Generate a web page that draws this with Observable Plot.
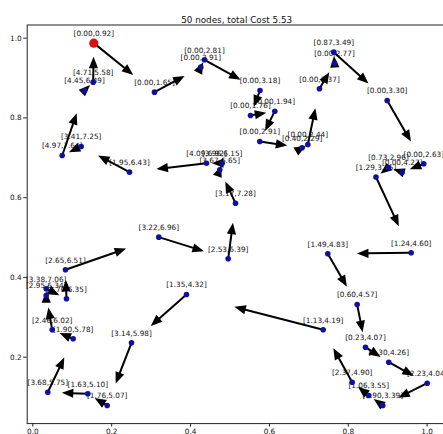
<!DOCTYPE html>
<html><head><meta charset="utf-8">
<script src="https://cdn.jsdelivr.net/npm/d3@7"></script>
<script src="https://cdn.jsdelivr.net/npm/@observablehq/plot@0.6"></script>
<style>html,body{margin:0;padding:0;background:#fff;overflow:hidden}</style>
</head><body><div id="chart"></div>
<script>
const title = "50 nodes, total Cost 5.53";
// nodes listed in tour order (the first one is the depot); each arrow goes to the next node
const nodeLabels = [
  "[0.00,0.92]","[0.00,1.65]","[0.00,2.91]","[0.00,2.81]","[0.00,3.18]","[0.00,1.76]","[0.00,1.94]","[0.00,2.91]",
  "[0.40,2.29]","[0.00,2.44]","[0.00,2.37]","[0.00,2.77]","[0.87,3.49]","[0.00,3.30]","[0.00,2.63]","[0.00,4.27]",
  "[0.73,2.96]","[1.29,3.15]","[1.24,4.60]","[1.49,4.83]","[0.60,4.57]","[0.23,4.07]","[1.30,4.26]","[2.23,4.04]",
  "[0.90,3.39]","[1.06,3.55]","[2.37,4.90]","[1.13,4.19]","[1.35,4.32]","[3.14,5.98]","[1.76,5.07]","[1.63,5.10]",
  "[3.68,5.75]","[1.90,5.78]","[2.46,6.02]","[2.95,6.34]","[3.38,7.06]","[2.70,6.35]","[2.65,6.51]","[3.22,6.96]",
  "[2.53,6.39]","[3.17,7.28]","[3.67,6.65]","[3.96,6.15]","[4.09,6.92]","[1.95,6.43]","[3.41,7.25]","[4.97,7.64]",
  "[4.45,6.49]","[4.71,5.58]"
];
const nodeX = [
  0.1547,0.3086,0.4260,0.4353,0.5761,0.5520,0.6136,0.5756,
  0.6830,0.6973,0.7269,0.7650,0.7632,0.8986,0.9914,0.9366,
  0.9019,0.8702,0.9594,0.7480,0.8225,0.8436,0.9026,1.0000,
  0.8874,0.8519,0.8098,0.7363,0.3897,0.2503,0.1886,0.1395,
  0.0380,0.1024,0.0492,0.0340,0.0340,0.0854,0.0829,0.3195,
  0.4954,0.5140,0.4741,0.4802,0.4404,0.2452,0.1227,0.0745,
  0.1311,0.1531
];
const nodeY = [
  0.9875,0.8646,0.9273,0.9458,0.8688,0.8061,0.8169,0.7409,
  0.7251,0.7334,0.8731,0.9373,0.9649,0.8438,0.6850,0.6640,
  0.6757,0.6519,0.4618,0.4593,0.3322,0.2251,0.1875,0.1348,
  0.0789,0.1039,0.1373,0.2687,0.3572,0.2361,0.0789,0.1082,
  0.1122,0.2461,0.2687,0.3547,0.3715,0.3465,0.4192,0.5010,
  0.4468,0.5862,0.6700,0.6865,0.6865,0.6640,0.7284,0.7058,
  0.8688,0.8897
];
const xTicks = [0.0, 0.2, 0.4, 0.6, 0.8, 1.0];
const yTicks = [0.2, 0.4, 0.6, 0.8, 1.0];

const W = 443, H = 434;
const mL = 26.7, mR = -2.6, mT = 24.5, mB = 10.9;
const xDomain = [-0.0142, 1.048], yDomain = [0.0335, 1.033];
const kx = (W - mR - mL) / (xDomain[1] - xDomain[0]);
const ky = (H - mB - mT) / (yDomain[1] - yDomain[0]);
const FRAC = 0.65, HEAD_L = 11.5, HEAD_W = 4.6;

const nodes = nodeX.map((x, i) => ({x, y: nodeY[i], label: nodeLabels[i], depot: i === 0}));
const arrows = nodes.map((a, i) => {
  const b = nodes[(i + 1) % nodes.length];
  const tx = a.x + FRAC * (b.x - a.x), ty = a.y + FRAC * (b.y - a.y);
  const sx = (b.x - a.x) * kx, sy = -(b.y - a.y) * ky;
  const len = Math.hypot(sx, sy), plen = FRAC * len;
  const back = Math.min(HEAD_L - 2, plen);
  return {
    x1: a.x, y1: a.y,
    x2: tx - back * (sx / len) / kx, y2: ty + back * (sy / len) / ky,
    tx, ty, rot: Math.atan2(sx, -sy) * 180 / Math.PI
  };
});
const headSymbol = {draw(ctx) { ctx.moveTo(0, 0); ctx.lineTo(-HEAD_W, HEAD_L); ctx.lineTo(HEAD_W, HEAD_L); ctx.closePath(); }};

const chart = Plot.plot({
  width: W, height: H,
  marginLeft: mL, marginRight: mR, marginTop: mT, marginBottom: mB,
  style: {fontFamily: "DejaVu Sans, sans-serif", background: "#fff", overflow: "hidden"},
  x: {domain: xDomain},
  y: {domain: yDomain},
  marks: [
    Plot.frame({stroke: "#222"}),
    Plot.axisX(xTicks, {tickFormat: d3.format(".1f"), tickSize: 3.5, tickPadding: 1.5, fontSize: 7.3, label: null, stroke: "#222", fill: "#111"}),
    Plot.axisY(yTicks, {tickFormat: d3.format(".1f"), tickSize: 3.5, tickPadding: 2, fontSize: 7.3, label: null, stroke: "#222", fill: "#111"}),
    Plot.text(nodes, {x: "x", y: "y", text: "label", dy: -9.5, fontSize: 7.3, fill: "#111"}),
    Plot.link(arrows, {x1: "x1", y1: "y1", x2: "x2", y2: "y2", stroke: "black", strokeWidth: 2}),
    Plot.dot(arrows, {x: "tx", y: "ty", rotate: "rot", symbol: headSymbol, r: 1, fill: "black", stroke: "none"}),
    Plot.dot(nodes.filter(d => !d.depot), {x: "x", y: "y", r: 2.8, fill: "#10109e", stroke: "none"}),
    Plot.dot(nodes.filter(d => d.depot), {x: "x", y: "y", r: 4.6, fill: "#dd1111", stroke: "none"}),
    Plot.text([title], {frameAnchor: "top", dy: -8.5, fontSize: 8.8, fill: "#111"})
  ]
});
document.getElementById("chart").appendChild(chart);
</script>
</body></html>
